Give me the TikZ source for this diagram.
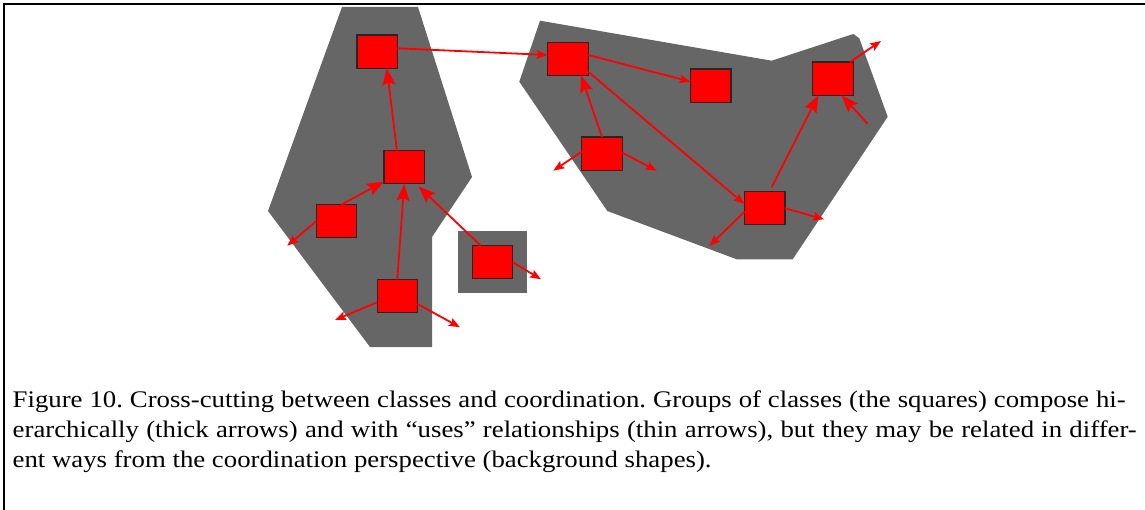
\documentclass[tikz,border=0pt]{standalone}
\usepackage{fontspec}
\setmainfont{Liberation Serif}[FakeStretch=1.125]
\usetikzlibrary{arrows.meta}
\definecolor{shapegray}{HTML}{666666}
\frenchspacing
\begin{document}
\begin{tikzpicture}[x=1pt,y=-1pt,
  cls/.style={draw=black!85, line width=1.1pt, fill=red, minimum width=40.5pt, minimum height=33.3pt, inner sep=0pt, outer sep=0pt},
  comp/.style={draw=red, line width=1.8pt, -{Stealth[length=17pt,width=13pt,inset=3pt]}},
  uses/.style={draw=red, line width=1.8pt, -{Stealth[length=11pt,width=8.5pt,inset=2pt]}},
  bg/.style={fill=shapegray},
  captext/.style={anchor=base west, inner sep=0pt, font=\fontsize{23.8}{30}\selectfont}]
\useasboundingbox (0,0) rectangle (1145,510);
\draw[line width=2pt] (4,510) -- (4,4.3) -- (1145,4.3);
% background shapes
\fill[bg] (342,7) -- (418,7) -- (472,177) -- (432,237) -- (432,347) -- (370,347) -- (268,211) -- cycle;
\fill[bg] (458.3,231) rectangle (527.3,293.3);
\fill[bg] (540,20.7) -- (771.7,60.7) -- (853.3,34) -- (859.3,38.3) -- (887.7,116.7) -- (792.7,259.3) -- (736.7,259.3) -- (607.3,211) -- (519.3,81.7) -- cycle;
% classes
\node[cls] (L1) at (377.2,51.7) {};
\node[cls] (L2) at (404.2,167.2) {};
\node[cls] (L3) at (336.3,221.3) {};
\node[cls] (L4) at (397.3,296) {};
\node[cls] (S) at (492.5,262.2) {};
\node[cls] (A) at (568,58.8) {};
\node[cls] (B) at (710.7,85.7) {};
\node[cls] (C) at (833,78.7) {};
\node[cls] (D) at (602,153.7) {};
\node[cls] (E) at (764.7,208.2) {};
% free ends
\coordinate (c1) at (867.7,124);
\coordinate (c2) at (881,41);
\coordinate (d1) at (553.3,170.7);
\coordinate (d2) at (656.7,170.7);
\coordinate (e1) at (709.3,246);
\coordinate (e2) at (824,219.3);
\coordinate (l3a) at (287.3,245.7);
\coordinate (l4a) at (335,320);
\coordinate (l4b) at (460,327.3);
\coordinate (s1) at (541,279.3);
% hierarchical composition (thick arrows)
\draw[comp] ([xshift=-7.3pt]L2.north) -- ([xshift=9.7pt]L1.south);
\draw[comp] ([xshift=5pt]L3.north) -- ([yshift=2.3pt]L2.south west);
\draw[comp] (L4.north) -- (L2.south);
\draw[comp] ([xshift=8.4pt]S.north west) -- ([xshift=14.3pt,yshift=-2.5pt]L2.south);
\draw[comp] (D.north) -- ([xshift=13pt]A.south);
\draw[comp] ([xshift=7pt,yshift=4.3pt]E.north) -- ([xshift=-14.7pt]C.south);
\draw[comp] (c1) -- ([xshift=8.7pt]C.south);
% uses relationships (thin arrows)
\draw[uses] ([yshift=3.4pt]L1.east) -- ([yshift=3.8pt]A.west);
\draw[uses] ([yshift=3.8pt]A.east) -- ([yshift=4pt]B.west);
\draw[uses] ([yshift=3.6pt]A.south east) -- ([yshift=4.2pt]E.west);
\draw[uses] ([yshift=2pt]D.west) -- (d1);
\draw[uses] ([yshift=1pt]D.east) -- (d2);
\draw[uses] ([yshift=-3.5pt]E.west) -- (e1);
\draw[uses] (E.east) -- (e2);
\draw[uses] ([xshift=-3.3pt]C.north east) -- (c2);
\draw[uses] (L3.west) -- (l3a);
\draw[uses] ([yshift=-6.3pt]L4.west) -- (l4a);
\draw[uses] ([yshift=-8pt]L4.east) -- (l4b);
\draw[uses] (S.east) -- (s1);
% caption
\node[captext] (cap1) at (12.5,407.3) {\makebox[1113pt][s]{Figure 10. Cross-cutting between classes and coordination. Groups of classes (the squares) compose hi-}};
\node[captext] (cap2) at (12.5,437.3) {\makebox[1124pt][s]{erarchically (thick arrows) and with ``uses'' relationships (thin arrows), but they may be related in differ-}};
\node[captext] (cap3) at (12.5,467.3) {ent ways from the coordination perspective (background shapes).};
\end{tikzpicture}
\end{document}
